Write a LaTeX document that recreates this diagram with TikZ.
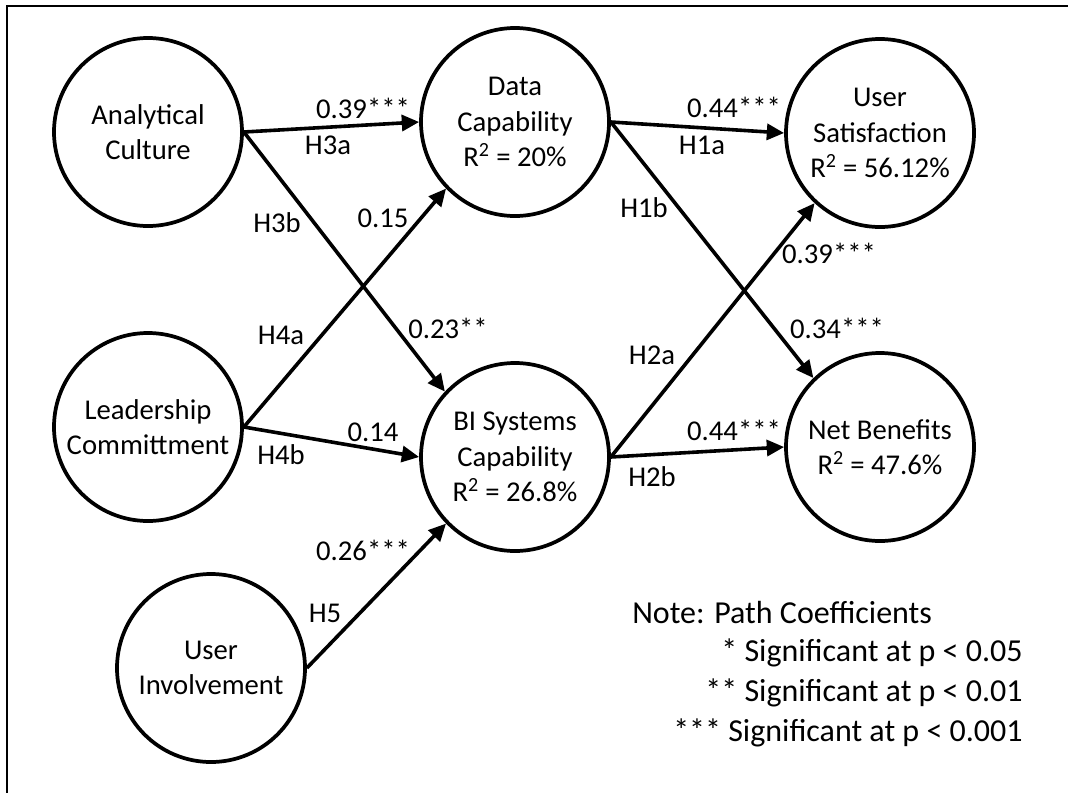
\documentclass[tikz,border=0pt]{standalone}
\usepackage{fontspec}
\setmainfont{Carlito}
\usetikzlibrary{arrows.meta}
\begin{document}
\begin{tikzpicture}[x=0.75pt,y=-0.75pt,
  construct/.style={circle,draw,line width=2.8pt,minimum size=141pt,inner sep=0pt,align=center,font=\fontsize{21.5}{26.5}\selectfont},
  conn/.style={line width=2.7pt,-{Triangle[length=13pt,width=12pt]}},
  lbl/.style={font=\fontsize{21.5}{26}\selectfont,inner sep=0pt},
  notetext/.style={font=\fontsize{24}{30}\selectfont,inner sep=0pt}]
\useasboundingbox (0,0) rectangle (1068,793);
% frame (top and left edges)
\coordinate (fa) at (1068,6);
\coordinate (fb) at (7,6);
\coordinate (fc) at (7,793);
\draw[line width=2.2pt] (fa) -- (fb) -- (fc);

% constructs
\node[construct] (ac) at (148,132) {Analytical\\Culture};
\node[construct] (lc) at (148,427) {Leadership\\Committment};
\node[construct] (ui) at (211,668) {User\\Involvement};
\node[construct] (dc) at (515,122) {Data\\Capability\\R\textsuperscript{2} = 20\%};
\node[construct] (bi) at (515,457) {BI Systems\\Capability\\R\textsuperscript{2} = 26.8\%};
\node[construct] (us) at (880,133) {User\\Satisfaction\\R\textsuperscript{2} = 56.12\%};
\node[construct] (nb) at (880,447) {Net Benefits\\R\textsuperscript{2} = 47.6\%};

% paths
\draw[conn] (ac.east) -- (dc.west);
\draw[conn] (ac.east) -- (bi.137);
\draw[conn] (lc.east) -- (dc.224);
\draw[conn] (lc.east) -- (bi.west);
\draw[conn] (ui.east) -- (bi.224);
\draw[conn] (dc.east) -- (us.west);
\draw[conn] (dc.east) -- (nb.134);
\draw[conn] (bi.east) -- (us.227);
\draw[conn] (bi.east) -- (nb.west);

% labels
\node[lbl] (l1) at (363,108) {0.39***};
\node[lbl] (l2) at (328,145) {H3a};
\node[lbl] (l3) at (277,223) {H3b};
\node[lbl] (l4) at (383,218) {0.15};
\node[lbl] (l5) at (281,335) {H4a};
\node[lbl] (l6) at (448,328) {0.23**};
\node[lbl] (l7) at (373,432) {0.14};
\node[lbl] (l8) at (281,455) {H4b};
\node[lbl] (l9) at (363,550) {0.26***};
\node[lbl] (l10) at (325,613) {H5};
\node[lbl] (l11) at (734,107) {0.44***};
\node[lbl] (l12) at (702,145) {H1a};
\node[lbl] (l13) at (644,208) {H1b};
\node[lbl] (l14) at (829,253) {0.39***};
\node[lbl] (l15) at (837,328) {0.34***};
\node[lbl] (l16) at (652,355) {H2a};
\node[lbl] (l17) at (734,430) {0.44***};
\node[lbl] (l18) at (652,477) {H2b};

% note
\node[notetext,anchor=west] (n0) at (632,613) {Note: Path Coefficients};
\node[notetext,anchor=east] (n1) at (1023,653) {* Significant at p < 0.05};
\node[notetext,anchor=east] (n2) at (1023,693) {** Significant at p < 0.01};
\node[notetext,anchor=east] (n3) at (1023,733) {*** Significant at p < 0.001};
\end{tikzpicture}
\end{document}
